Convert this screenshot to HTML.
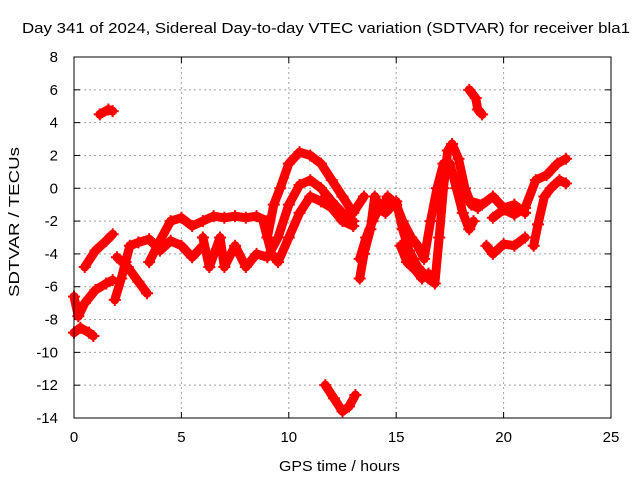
<!DOCTYPE html>
<html><head><meta charset="utf-8"><style>
body{margin:0;background:#fff;}
svg{display:block;font-family:"Liberation Sans",sans-serif;}
</style></head><body>
<svg id="chart" width="640" height="480" viewBox="0 0 640 480">
<rect width="640" height="480" fill="#fff"/>
<text x="22" y="33" font-size="15" textLength="608" lengthAdjust="spacingAndGlyphs" fill="#000">Day 341 of 2024, Sidereal Day-to-day VTEC variation (SDTVAR) for receiver bla1</text>
<g id="grid"></g>
<g id="axes"></g>
<g id="series"></g>
<rect x="74" y="57" width="537" height="361" fill="none" stroke="#000" stroke-width="1"/>
<text x="279" y="471" font-size="15" textLength="121" lengthAdjust="spacingAndGlyphs">GPS time / hours</text>
<text x="0" y="0" font-size="15" textLength="150" lengthAdjust="spacingAndGlyphs" text-anchor="middle" transform="translate(19,222) rotate(-90)">SDTVAR / TECUs</text>
</svg>
<script>
const xTicks=[0,5,10,15,20,25];
const yTicks=[8,6,4,2,0,-2,-4,-6,-8,-10,-12,-14];
const tracks=[
[[0,-8.8],[0.3,-8.5],[0.7,-8.8],[0.9,-9]],
[[0,-6.6],[0.2,-7.8],[0.5,-7],[1,-6.2],[1.5,-5.8],[1.8,-5.6]],
[[0.5,-4.8],[1,-3.8],[1.5,-3.2],[1.8,-2.8]],
[[1.2,4.5],[1.6,4.8],[1.8,4.7]],
[[1.9,-6.8],[2.2,-5.5],[2.4,-4.5],[2.6,-3.5],[3,-3.3],[3.5,-3.1],[4,-3.8],[4.5,-3.2],[5,-3.5],[5.5,-4.2],[6,-3.5]],
[[2,-4.2],[2.5,-4.8],[3,-5.7],[3.4,-6.4]],
[[3.5,-4.5],[4,-3.2],[4.5,-2],[5,-1.8],[5.5,-2.3],[6,-2],[6.5,-1.7],[7,-1.8],[7.5,-1.7],[8,-1.8],[8.5,-1.7],[9,-2]],
[[6,-3],[6.3,-4.8],[6.8,-3],[7,-4.8],[7.5,-3.5],[8,-4.8],[8.5,-4],[9,-4.2],[9.5,-3],[10,-1],[10.5,0.2],[11,0.5],[11.5,0],[12,-0.8],[12.5,-1.5],[13,-2]],
[[9,-3],[9.3,-1],[9.6,0],[10,1.5],[10.5,2.2],[11,2],[11.5,1.5],[12,0.5],[12.5,-0.5],[13,-1.5],[13.5,-0.5]],
[[8.8,-2],[9.2,-4],[9.5,-4.5],[10,-3],[10.5,-1.5],[11,-0.5],[11.5,-0.8],[12,-1.2],[12.5,-2],[13,-2.3]],
[[11.7,-12],[12.1,-12.8],[12.5,-13.6],[12.8,-13.3],[13.1,-12.6]],
[[13.3,-4.3],[13.6,-3],[13.9,-2],[14.2,-1.2],[14.5,-1.5],[15,-0.8],[15.3,-2.5],[15.6,-3.8],[16,-4.8],[16.5,-5.5],[16.8,-5.8],[17,-3],[17.2,0],[17.4,2.3],[17.6,2.7],[17.9,1.8],[18.2,0],[18.5,-1],[18.8,-1.2]],
[[13.3,-5.5],[13.5,-4],[13.8,-2.5],[14,-0.5],[14.3,-1.3],[14.6,-0.5],[15,-1],[15.3,-2],[15.7,-3],[16,-3.5],[16.3,-4.3],[16.6,-2],[16.9,0],[17.2,1.5],[17.5,1.5],[17.8,0],[18.1,-1.5],[18.4,-2.5],[18.6,-2]],
[[15.2,-3.5],[15.5,-4.5],[15.9,-5],[16.2,-5.5],[16.5,-5.2]],
[[18.4,6],[18.7,5.5],[18.8,4.8],[19,4.5]],
[[18,-0.5],[18.5,-0.8],[19,-1],[19.5,-0.5],[20,-1.2],[20.5,-1],[21,-1.5]],
[[19.2,-3.5],[19.5,-4],[20,-3.4],[20.5,-3.5],[21,-3]],
[[19.5,-1.8],[20,-1.3],[20.5,-1.6],[21,-1.2],[21.5,0.5],[22,0.8],[22.5,1.5],[22.9,1.8]],
[[21.4,-3.5],[21.6,-2.2],[21.9,-0.5],[22.2,0],[22.6,0.5],[22.9,0.3]]
];
const NS="http://www.w3.org/2000/svg";
const X0=74,X1=611,Y0=57,Y1=418;
function sx(v){return X0+(v-0)/(25-0)*(X1-X0);}
function sy(v){return Y0+(8-v)/(8-(-14))*(Y1-Y0);}
const grid=document.getElementById('grid'),axes=document.getElementById('axes'),ser=document.getElementById('series');
function mk(t,a,p){const e=document.createElementNS(NS,t);for(const k in a)e.setAttribute(k,a[k]);p.appendChild(e);return e;}
xTicks.forEach(v=>{
 const x=sx(v);
 if(v>0&&v<25){const g=mk('line',{x1:x,x2:x,y1:Y0,y2:Y1,stroke:'#a0a0a0','stroke-dasharray':'2,3'},grid);
 
 }
 mk('line',{x1:x,x2:x,y1:Y1,y2:Y1-6,stroke:'#000'},axes);
 mk('line',{x1:x,x2:x,y1:Y0,y2:Y0+6,stroke:'#000'},axes);
 const t=mk('text',{x:x,y:Y1+24,'font-size':15,'text-anchor':'middle'},axes);t.textContent=v;
 
 
});
yTicks.forEach(v=>{
 const y=sy(v);
 if(v<8&&v>-14){const g=mk('line',{x1:X0,x2:X1,y1:y,y2:y,stroke:'#a0a0a0','stroke-dasharray':'2,3'},grid);
 
 }
 mk('line',{x1:X0,x2:X0+6,y1:y,y2:y,stroke:'#000'},axes);
 mk('line',{x1:X1,x2:X1-6,y1:y,y2:y,stroke:'#000'},axes);
 const t=mk('text',{x:X0-16,y:y+5,'font-size':15,'text-anchor':'end'},axes);t.textContent=v;
 
 
});
tracks.forEach((tr,i)=>{
 const pts=tr.map(p=>sx(p[0])+','+sy(p[1])).join(' ');
 const pl=mk('polyline',{points:pts,fill:'none',stroke:'#ff0000','stroke-width':9,'stroke-linejoin':'round','stroke-linecap':'round'},ser);
 
 
 tr.forEach(p=>{
  const x=sx(p[0]),y=sy(p[1]);
  const m=mk('path',{d:`M${x-6},${y}H${x+6}M${x},${y-6}V${y+6}`,stroke:'#ff0000','stroke-width':2},ser);
  
  
 });
});
</script>
</body></html>
